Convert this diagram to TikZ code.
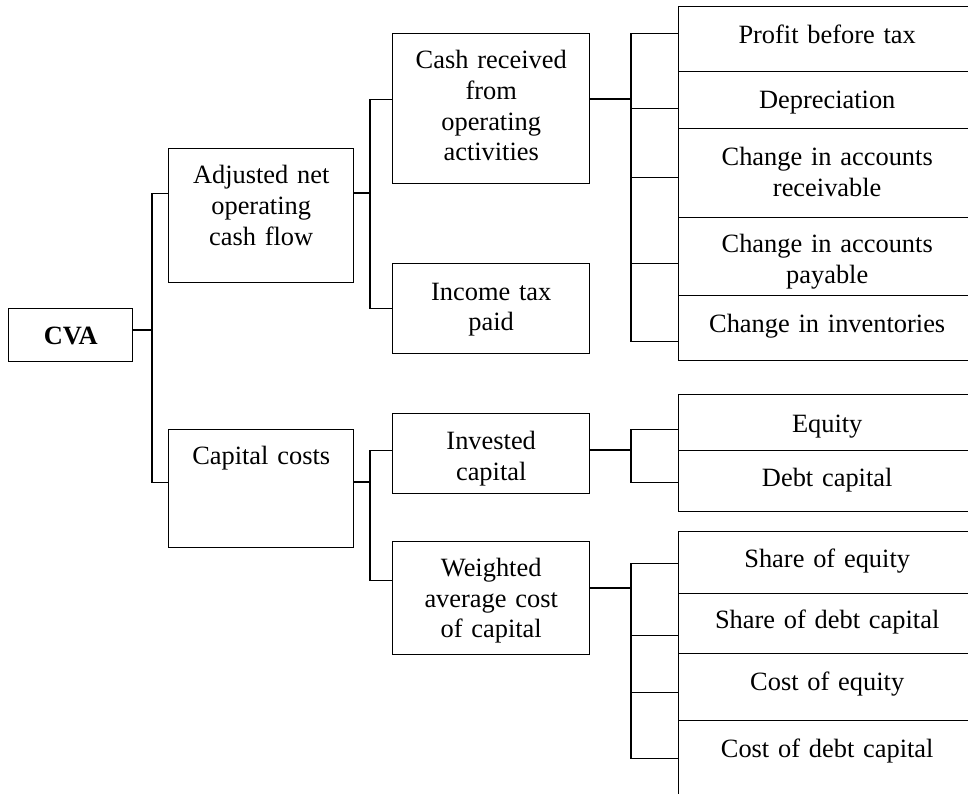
\documentclass[tikz,border=0pt]{standalone}
\usepackage{fontspec}
\setmainfont{Liberation Serif}
\usepackage{tikz}
\tikzstyle{box}=[draw,line width=1.4pt,align=center,inner sep=0pt,anchor=north west,font=\fontsize{26.4}{30.6}\selectfont]
\tikzstyle{rbox}=[box,text width=297pt]
\tikzstyle{mbox}=[box,text width=197pt]
\tikzstyle{lbox}=[box,text width=185pt]
\tikzstyle{link}=[draw,line width=1.4pt]

\begin{document}
\begin{tikzpicture}[x=1pt,y=-1pt]

	\useasboundingbox (0,0) rectangle (968,794);
	\clip (0,0) rectangle (968,794);

% % % root and first level
	\node[box,text width=124pt,text height=35.3pt,text depth=17.7pt] (cva) at (8,308) {\textbf{CVA}};
	\node[lbox,text height=35.3pt,text depth=98.7pt] (adj) at (168,148) {Adjusted net\\operating\\cash flow};
	\node[lbox,text height=35pt,text depth=83pt] (capc) at (168,429) {Capital costs};

% % % second level
	\node[mbox,text height=35.3pt,text depth=114.7pt] (cash) at (392,33) {Cash received\\from\\operating\\activities};
	\node[mbox,text height=36.3pt,text depth=53.7pt] (itp) at (392,263) {Income tax\\paid};
	\node[mbox,text height=36pt,text depth=44pt] (invc) at (392,413) {Invested\\capital};
	\node[mbox,text height=35pt,text depth=78pt] (wacc) at (392,541) {Weighted\\average cost\\of capital};

% % % third level
	\node[rbox,text height=37pt,text depth=28pt] (pbt) at (678,6) {Profit before tax};
	\node[rbox,text height=37pt,text depth=20pt] (dep) at (678,71) {Depreciation};
	\node[rbox,text height=37pt,text depth=52pt] (recv) at (678,128) {Change in accounts\\receivable};
	\node[rbox,text height=35pt,text depth=43pt] (pay) at (678,217) {Change in accounts\\payable};
	\node[rbox,text height=36.5pt,text depth=28.5pt] (inv) at (678,295) {Change in inventories};

	\node[rbox,text height=37.5pt,text depth=18.5pt] (equ) at (678,394) {Equity};
	\node[rbox,text height=36pt,text depth=25pt] (debt) at (678,450) {Debt capital};

	\node[rbox,text height=35.5pt,text depth=26.5pt] (shq) at (678,531) {Share of equity};
	\node[rbox,text height=35pt,text depth=25pt] (shd) at (678,593) {Share of debt capital};
	\node[rbox,text height=37pt,text depth=30pt] (coe) at (678,653) {Cost of equity};
	\node[rbox,text height=36.5pt,text depth=53.5pt] (cod) at (678,720) {Cost of debt capital};

% % % junctions
	\coordinate (j0) at (152,330);
	\coordinate (j1) at (370,193);
	\coordinate (j2) at (370,482);
	\coordinate (j3) at (631,99);
	\coordinate (j4) at (631,450);
	\coordinate (j5) at (631,588);

% % % connectors
	\path[link] (cva.east |- j0) -- (j0);
	\path[link] ([yshift=22]adj.west) -| (j0) |- ([yshift=6]capc.west);

	\path[link] (adj.east |- j1) -- (j1);
	\path[link] ([yshift=9]cash.west) -| (j1) |- (itp.west);

	\path[link] (capc.east |- j2) -- (j2);
	\path[link] ([yshift=3]invc.west) -| (j2) |- ([yshift=17.5]wacc.west);

	\path[link] (cash.east |- j3) -- (j3);
	\path[link] ([yshift=5.5]pbt.west) -| (j3) |- ([yshift=-13.5]inv.west);
	\path[link] ([yshift=-8.5]dep.west -| j3) -- ([yshift=-8.5]dep.west);
	\path[link] ([yshift=-4.5]recv.west -| j3) -- ([yshift=-4.5]recv.west);
	\path[link] ([yshift=-7]pay.west -| j3) -- ([yshift=-7]pay.west);

	\path[link] (invc.east |- j4) -- (j4);
	\path[link] ([yshift=-7]equ.west) -| (j4) |- ([yshift=-1.5]debt.west);

	\path[link] (wacc.east |- j5) -- (j5);
	\path[link] ([yshift=-1]shq.west) -| (j5) |- ([yshift=7]cod.west);
	\path[link] ([yshift=-12]shd.west -| j5) -- ([yshift=-12]shd.west);
	\path[link] ([yshift=-5.5]coe.west -| j5) -- ([yshift=-5.5]coe.west);

\end{tikzpicture}
\end{document}
